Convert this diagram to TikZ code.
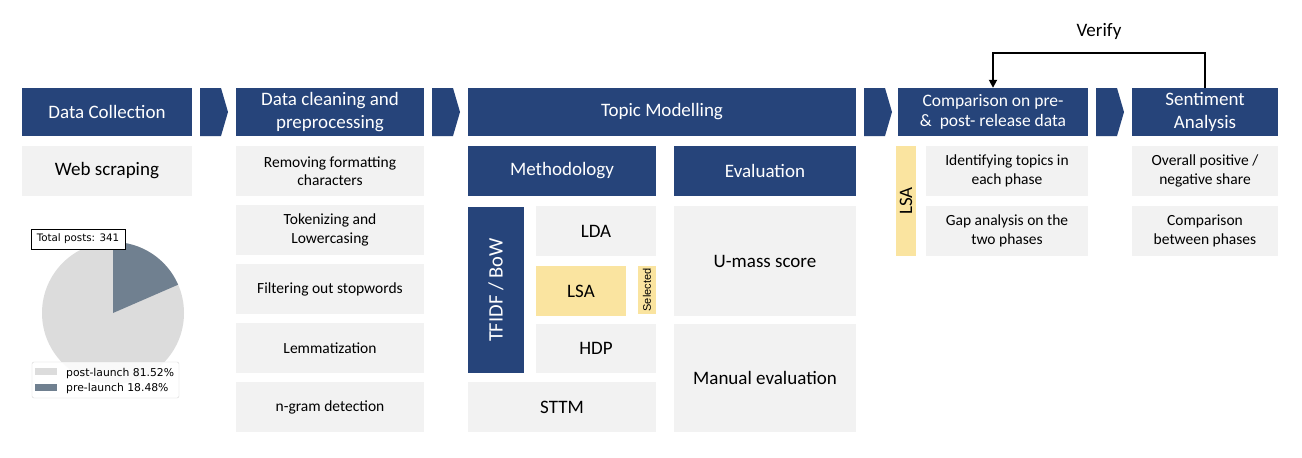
\documentclass[tikz,border=0pt]{standalone}
\usepackage{fontspec}
\setmainfont{Carlito}
\newfontfamily\dejavu{DejaVu Sans}
\newfontfamily\arialf{Liberation Sans}
\usetikzlibrary{arrows.meta}
\definecolor{hdrblue}{RGB}{38,68,122}
\definecolor{boxgray}{RGB}{242,242,242}
\definecolor{selyellow}{RGB}{250,228,160}
\definecolor{pielight}{RGB}{220,220,220}
\definecolor{piedark}{RGB}{112,128,144}
\definecolor{legframe}{RGB}{214,214,214}
\tikzset{
  base/.style={inner sep=0pt, align=center, font=\fontsize{19}{22.5}\selectfont},
  hdr/.style={base, fill=hdrblue, text=white},
  gbox/.style={base, fill=boxgray, text=black},
  sbox/.style={gbox, font=\fontsize{15.5}{18.5}\selectfont},
  ybox/.style={base, fill=selyellow, text=black},
  chev/.style={fill=hdrblue},
  sz/.style 2 args={minimum width=#1pt, minimum height=#2pt},
  mpl/.style={inner sep=0pt, font=\dejavu\fontsize{10.8}{13}\selectfont},
  conn/.style={line width=1.8pt, -{Triangle[width=8pt,length=8pt]}}
}
\newcommand\chevshape[1]{\fill[chev] (#1,88) -- ++(21,0) -- ++(7,24) -- ++(-7,24) -- ++(-21,0) -- cycle;}
\begin{document}
\begin{tikzpicture}[x=1pt,y=-1pt]
\useasboundingbox[fill=white] (0,0) rectangle (1302,458);
% headers
\node[hdr, sz={170}{48}] (dc) at (107,112) {Data Collection};
\node[hdr, sz={188}{48}] (clean) at (330,112) {Data cleaning and\\preprocessing};
\node[hdr, sz={388}{48}] (topic) at (662,112) {Topic Modelling};
\node[hdr, sz={190}{48}, font=\fontsize{17.5}{20}\selectfont] (comp) at (993,112) {Comparison on pre-\\\&\ \ post- release data};
\node[hdr, sz={146}{48}] (sent) at (1205,112) {Sentiment\\Analysis};
\chevshape{200}
\chevshape{432}
\chevshape{864}
\chevshape{1096}
% data collection
\node[gbox, sz={170}{50}] (web) at (107,171) {Web scraping};
% pie chart
\fill[pielight] (113,313) circle[radius=71pt];
\fill[piedark] (113,313) -- ++(90:71pt) arc[start angle=90, end angle=23.5, radius=71pt] -- cycle;
\node[draw=legframe, fill=white, fill opacity=0.85, rounded corners=2pt, sz={147}{36}] (legend) at (105.5,380) {};
\fill[pielight] (35,368) rectangle (57,375);
\fill[piedark] (35,384) rectangle (57,391);
\node[mpl, anchor=base west] (lg1) at (66,376) {post-launch 81.52\%};
\node[mpl, anchor=base west] (lg2) at (66,391) {pre-launch 18.48\%};
\node[mpl, draw=black, fill=white, line width=0.8pt, sz={94}{20}, font=\dejavu\fontsize{10.3}{12}\selectfont] (total) at (78,239) {Total posts: 341};
% data cleaning
\node[sbox, sz={188}{50}] (c1) at (330,171) {Removing formatting\\characters};
\node[sbox, sz={188}{50}] (c2) at (330,230) {Tokenizing and\\Lowercasing};
\node[sbox, sz={188}{50}] (c3) at (330,289) {Filtering out stopwords};
\node[sbox, sz={188}{50}] (c4) at (330,348) {Lemmatization};
\node[sbox, sz={188}{50}] (c5) at (330,407) {n-gram detection};
% topic modelling
\node[hdr, sz={188}{50}] (meth) at (562,171) {Methodology};
\node[hdr, sz={182}{50}] (eval) at (765,171) {Evaluation};
\node[hdr, rotate=90, sz={166}{56}, font=\fontsize{20.5}{24}\selectfont] (tfidf) at (496,290) {TFIDF / BoW};
\node[gbox, sz={120}{50}] (lda) at (596,231) {LDA};
\node[ybox, sz={90}{50}] (lsa) at (581,291) {LSA};
\node[ybox, rotate=90, sz={48}{18}, font=\arialf\fontsize{11}{13}\selectfont] (sel) at (647,290) {Selected};
\node[gbox, sz={120}{49}] (hdp) at (596,348.5) {HDP};
\node[gbox, sz={188}{50}] (sttm) at (562,407) {STTM};
\node[gbox, sz={182}{110}] (umass) at (765,261) {U-mass score};
\node[gbox, sz={182}{108}] (manual) at (765,378) {Manual evaluation};
% comparison
\node[ybox, rotate=90, sz={110}{20}] (lsac) at (906,201) {LSA};
\node[sbox, sz={162}{50}] (ident) at (1007,171) {Identifying topics in\\each phase};
\node[sbox, sz={162}{50}] (gap) at (1007,231) {Gap analysis on the\\two phases};
% sentiment
\node[sbox, sz={146}{50}] (pos) at (1205,171) {Overall positive /\\negative share};
\node[sbox, sz={146}{50}] (betw) at (1205,231) {Comparison\\between phases};
% verify
\node[base] (verify) at (1099,31) {Verify};
\draw[conn] (sent.north) -- ++(0,-35) -| (comp.north);
\end{tikzpicture}
\end{document}
